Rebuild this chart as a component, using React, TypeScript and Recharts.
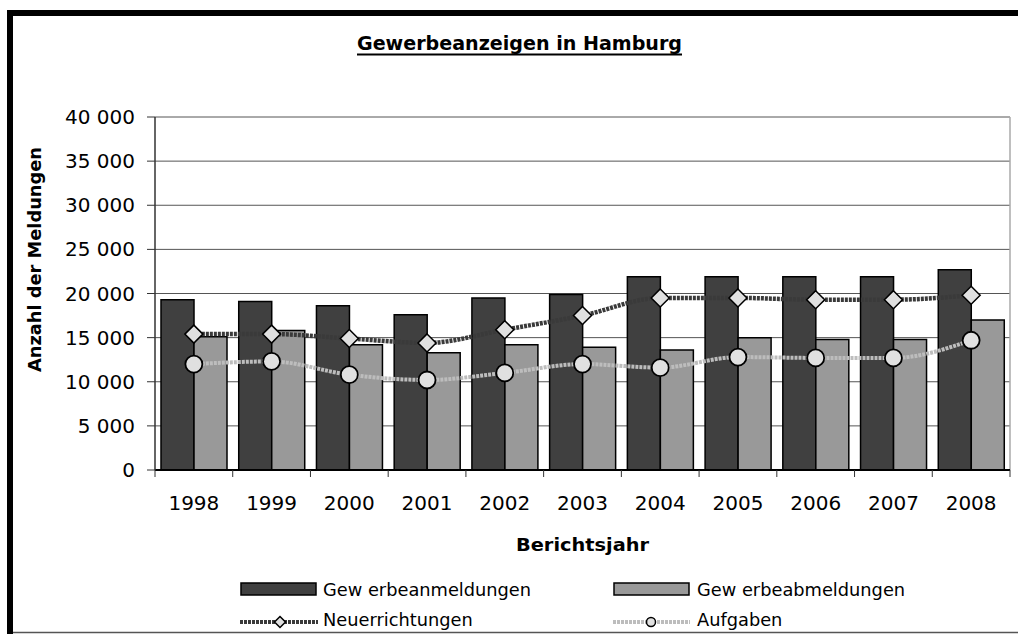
import React from 'react'
import { ComposedChart, Bar, Line, XAxis, YAxis, CartesianGrid } from 'recharts'

const years = ['1998', '1999', '2000', '2001', '2002', '2003', '2004', '2005', '2006', '2007', '2008']
const anmeldungen = [19300, 19100, 18600, 17600, 19500, 19900, 21900, 21900, 21900, 21900, 22700]
const abmeldungen = [15100, 15800, 14200, 13300, 14200, 13900, 13600, 15000, 14800, 14800, 17000]
const neuerrichtungen = [15400, 15400, 14900, 14400, 15900, 17500, 19500, 19500, 19300, 19300, 19800]
const aufgaben = [12000, 12300, 10800, 10200, 11000, 12000, 11600, 12800, 12700, 12700, 14700]
const yTicks = [0, 5000, 10000, 15000, 20000, 25000, 30000, 35000, 40000]

const W = 1018
const H = 634
const PLOT_LEFT = 155
const PLOT_RIGHT = 1010
const PLOT_W = PLOT_RIGHT - PLOT_LEFT
const FONT = '"DejaVu Sans", sans-serif'

const data = years.map((year, i) => ({
  year,
  anmeldungen: anmeldungen[i],
  abmeldungen: abmeldungen[i],
  neuerrichtungen: neuerrichtungen[i],
  aufgaben: aufgaben[i],
}))

const fmt = (v: number) => String(v).replace(/\B(?=(\d{3})+(?!\d))/g, ' ')

const diamondPath = (cx: number, cy: number, r: number) =>
  `M${cx},${cy - r} L${cx + r},${cy} L${cx},${cy + r} L${cx - r},${cy} Z`

function DiamondDot(props: any) {
  const { cx, cy, index } = props
  if (cx == null || cy == null) return null
  return <path key={`dia-${index}`} d={diamondPath(cx, cy, 9)} fill="#e0e0e0" stroke="#000" strokeWidth={1.5} />
}

function CircleDot(props: any) {
  const { cx, cy, index } = props
  if (cx == null || cy == null) return null
  return <circle key={`cir-${index}`} cx={cx} cy={cy} r={8.5} fill="#e0e0e0" stroke="#000" strokeWidth={1.8} />
}

function YearTick(props: any) {
  const { x, y, payload, index } = props
  const band = PLOT_W / years.length
  return (
    <g>
      <line x1={x - band / 2} x2={x - band / 2} y1={y} y2={y + 7} stroke="#333" />
      {index === years.length - 1 && <line x1={x + band / 2} x2={x + band / 2} y1={y} y2={y + 7} stroke="#333" />}
      <text x={x} y={y + 40} textAnchor="middle" fontSize={20} fontFamily={FONT} fill="#000">
        {payload.value}
      </text>
    </g>
  )
}

export default function App() {
  return (
    <div style={{ position: 'absolute', left: 0, top: 0, width: W, height: H, background: '#fff' }}>
      <ComposedChart width={W} height={H} data={data} margin={{ top: 117, right: W - PLOT_RIGHT, bottom: 0, left: 0 }} barSize={33} barGap={0}>
        <CartesianGrid vertical={false} stroke="#555" strokeWidth={1} />
        <CartesianGrid horizontal={false} verticalPoints={[PLOT_RIGHT]} stroke="#aaa" strokeWidth={1.5} />
        <XAxis
          dataKey="year"
          interval={0}
          height={H - 470}
          tickLine={false}
          tickSize={0}
          tickMargin={0}
          tick={<YearTick />}
          axisLine={{ stroke: '#000', strokeWidth: 2 }}
          label={{
            content: (p: any) => (
              <text x={p.viewBox.x + p.viewBox.width / 2} y={p.viewBox.y + 81} textAnchor="middle" fontSize={18.5} fontWeight="bold" fontFamily={FONT} fill="#000" textLength={133} lengthAdjust="spacingAndGlyphs">
                Berichtsjahr
              </text>
            ),
          }}
        />
        <YAxis
          width={PLOT_LEFT}
          domain={[0, 40000]}
          ticks={yTicks}
          tickFormatter={fmt}
          tickSize={8}
          tickMargin={12}
          tick={{ fontSize: 20, fontFamily: FONT, fill: '#000' }}
          tickLine={{ stroke: '#333' }}
          axisLine={{ stroke: '#333', strokeWidth: 1.5 }}
          label={{
            content: (p: any) => (
              <text transform={`translate(41, ${p.viewBox.y + p.viewBox.height / 2 - 34}) rotate(-90)`} textAnchor="middle" fontSize={17.5} fontWeight="bold" fontFamily={FONT} fill="#000" textLength={225} lengthAdjust="spacingAndGlyphs">
                Anzahl der Meldungen
              </text>
            ),
          }}
        />
        <Bar dataKey="anmeldungen" name="Gewerbeanmeldungen" fill="#404040" stroke="#000" strokeWidth={1.5} isAnimationActive={false} />
        <Bar dataKey="abmeldungen" name="Gewerbeabmeldungen" fill="#999999" stroke="#000" strokeWidth={1.5} isAnimationActive={false} />
        <Line type="monotone" dataKey="neuerrichtungen" name="Neuerrichtungen" stroke="#3a3a3a" strokeWidth={4.5} strokeDasharray="3 1" dot={DiamondDot} activeDot={false} isAnimationActive={false} />
        <Line type="monotone" dataKey="aufgaben" name="Aufgaben" stroke="#bdbdbd" strokeWidth={4} strokeDasharray="3 1" dot={CircleDot} activeDot={false} isAnimationActive={false} />
      </ComposedChart>
      <svg width={W} height={H} style={{ position: 'absolute', left: 0, top: 0, pointerEvents: 'none' }}>
        <rect x={7} y={10} width={W - 7} height={6} fill="#000" />
        <rect x={7} y={10} width={6} height={H - 10} fill="#000" />
        <line x1={13} x2={W} y1={632.5} y2={632.5} stroke="#555" strokeWidth={1.5} />
        <text x={519.5} y={50} textAnchor="middle" fontSize={19.5} fontWeight="bold" fontFamily={FONT} textLength={325} lengthAdjust="spacingAndGlyphs" fill="#000">
          Gewerbeanzeigen in Hamburg
        </text>
        <line x1={357} x2={682} y1={54.5} y2={54.5} stroke="#000" strokeWidth={2} />
        <g fontFamily={FONT} fontSize={17.8} fill="#000">
          <rect x={241} y={583} width={75} height={12} fill="#404040" stroke="#000" strokeWidth={1.5} />
          <text x={323} y={596}>Gew erbeanmeldungen</text>
          <rect x={614} y={583} width={75} height={12} fill="#999999" stroke="#000" strokeWidth={1.5} />
          <text x={697} y={596}>Gew erbeabmeldungen</text>
          <line x1={240} x2={318} y1={622} y2={622} stroke="#3a3a3a" strokeWidth={4} strokeDasharray="3 1" />
          <path d={diamondPath(280, 622, 5.5)} fill="#e0e0e0" stroke="#000" strokeWidth={1.5} />
          <text x={323} y={626}>Neuerrichtungen</text>
          <line x1={613} x2={690} y1={622} y2={622} stroke="#bdbdbd" strokeWidth={4} strokeDasharray="3 1" />
          <circle cx={651} cy={622} r={4.5} fill="#e0e0e0" stroke="#000" strokeWidth={1.5} />
          <text x={697} y={626}>Aufgaben</text>
        </g>
      </svg>
    </div>
  )
}
